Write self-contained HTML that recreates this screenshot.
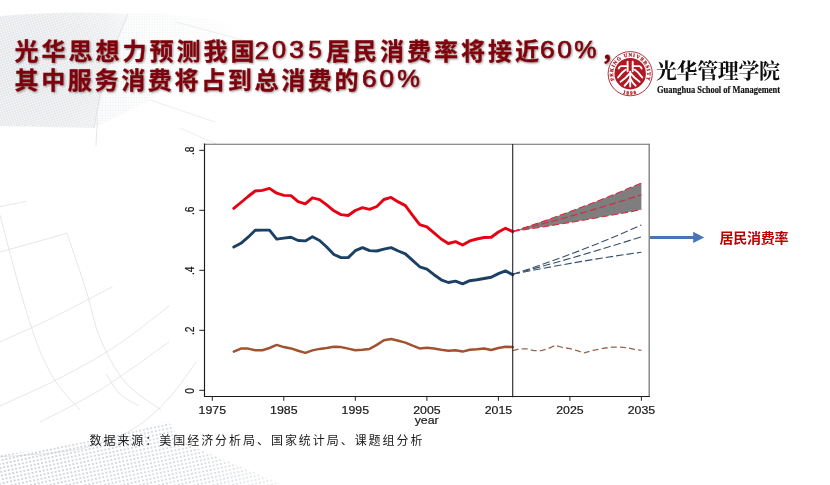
<!DOCTYPE html>
<html lang="zh"><head><meta charset="utf-8"><title>光华思想力预测我国2035居民消费率</title>
<style>html,body{margin:0;padding:0;background:#fff;}body{width:830px;height:485px;overflow:hidden;position:relative;font-family:"Liberation Sans",sans-serif;}svg{position:absolute;left:0;top:0;display:block}.sr{position:absolute;color:transparent;white-space:nowrap;overflow:hidden;margin:0;font-family:"Liberation Sans",sans-serif;}</style>
</head><body>
<svg width="830" height="485" viewBox="0 0 830 485">
<defs>
<filter id="sh" x="-5%" y="-20%" width="110%" height="150%"><feGaussianBlur in="SourceAlpha" stdDeviation="0.9"/><feOffset dx="1.2" dy="1.2"/><feComponentTransfer><feFuncA type="linear" slope="0.45"/></feComponentTransfer><feMerge><feMergeNode/><feMergeNode in="SourceGraphic"/></feMerge></filter>
<pattern id="dots2" width="2.6" height="2.6" patternUnits="userSpaceOnUse"><circle cx="1.3" cy="1.3" r="0.85" fill="#bfc5cc"/></pattern>
<pattern id="dotsW" width="2.5" height="2.5" patternUnits="userSpaceOnUse" patternTransform="rotate(-18)"><rect width="2.5" height="2.5" fill="#d3d7dc"/><circle cx="1.25" cy="1.25" r="0.8" fill="#fff"/></pattern>
<pattern id="dots3" width="3.8" height="3.8" patternUnits="userSpaceOnUse" patternTransform="rotate(-12)"><circle cx="1.9" cy="1.9" r="1.05" fill="#b4bbc3"/></pattern>
<radialGradient id="fadeTL" cx="0.15" cy="0.5" r="0.9"><stop offset="0" stop-color="#fff" stop-opacity="0.75"/><stop offset="0.7" stop-color="#fff" stop-opacity="0.55"/><stop offset="1" stop-color="#fff" stop-opacity="0.25"/></radialGradient>
<mask id="mTL"><rect x="0" y="0" width="140" height="140" fill="url(#fadeTL)"/></mask>
<linearGradient id="fadeTL2" x1="0" y1="0" x2="1" y2="0"><stop offset="0" stop-color="#fff" stop-opacity="0.35"/><stop offset="1" stop-color="#fff" stop-opacity="0.05"/></linearGradient>
<mask id="mTL2"><rect x="90" y="0" width="150" height="140" fill="url(#fadeTL2)"/></mask>
<linearGradient id="fadeBL" x1="0" y1="0" x2="1" y2="0"><stop offset="0" stop-color="#fff" stop-opacity="0.8"/><stop offset="0.6" stop-color="#fff" stop-opacity="0.6"/><stop offset="1" stop-color="#fff" stop-opacity="0"/></linearGradient>
<mask id="mBL"><rect x="0" y="400" width="345" height="90" fill="url(#fadeBL)"/></mask>
</defs>
<rect width="830" height="485" fill="#ffffff"/>
<g opacity="0.995">
<g id="bg">
<g mask="url(#mTL)"><path d="M0,16 Q70,10 128,14 Q106,70 94,128 L0,126 Z" fill="url(#dotsW)"/></g>
<g mask="url(#mTL2)"><path d="M128,14 Q190,12 236,26 Q200,60 150,100 L94,128 Q106,70 128,14 Z" fill="url(#dots2)"/></g>
<g fill="none" stroke="#dcdfe3" stroke-width="0.8">
<path d="M0.0,206.6C4.3,205.7 21.7,202.3 26.0,201.4"/>
<path d="M0.0,252.0C11.2,248.9 55.8,236.5 67.0,233.4"/>
<path d="M67.0,233.4C70.2,242.8 80.5,272.6 86.0,290.0C91.5,307.4 93.5,322.7 100.0,338.0C106.5,353.3 114.8,370.0 125.0,382.0C135.2,394.0 155.0,405.3 161.0,410.0"/>
<path d="M0.0,342.0C8.7,338.0 33.2,327.2 52.0,318.0C70.8,308.8 102.4,291.9 112.5,286.7"/>
<path d="M0.0,215.0C3.3,227.5 13.7,268.2 20.0,290.0C26.3,311.8 32.0,330.7 38.0,346.0C44.0,361.3 49.0,371.3 56.0,382.0C63.0,392.7 76.0,405.3 80.0,410.0"/>
<path d="M0.0,406.0C10.0,401.3 40.7,388.0 60.0,378.0C79.3,368.0 97.8,358.0 116.0,346.0C134.2,334.0 160.2,312.7 169.0,306.0"/>
<path d="M40.0,422.0C50.0,416.7 78.5,403.3 100.0,390.0C121.5,376.7 157.5,350.0 169.0,342.0"/>
<path d="M106.0,374.0C108.3,377.3 114.5,388.7 120.0,394.0C125.5,399.3 135.8,404.0 139.0,406.0"/>
<path d="M0.0,457.0C13.3,455.7 57.8,453.7 80.0,449.0C102.2,444.3 118.2,437.5 133.0,429.0C147.8,420.5 158.5,409.2 169.0,398.0C179.5,386.8 191.5,368.0 196.0,362.0"/>
<path d="M97.4,118.0C97.2,122.7 96.2,141.3 96.0,146.0"/>
<path d="M128.0,14.0C124.3,23.3 111.7,51.0 106.0,70.0C100.3,89.0 96.0,118.3 94.0,128.0"/>
</g>
<g fill="none" stroke="#e6e8ea" stroke-width="0.8"><path d="M176,22 L250,42 M180,128 L230,150 M150,100 L215,122"/></g>
<g mask="url(#mBL)"><path d="M0,455 C40,450 110,440 168,421 L182,442 C215,456 250,470 284,485 L0,485 Z" fill="url(#dots3)"/></g>
</g>
<g id="title" fill="#7c060a" filter="url(#sh)">
<g font-family="'Liberation Sans','Noto Sans CJK SC',sans-serif" font-weight="bold" font-size="24" stroke="#7c060a" stroke-width="0.3" stroke-linejoin="round">
<text x="14.5" y="59.5" textLength="240" lengthAdjust="spacing">光华思想力预测我国</text>
<text x="326" y="59.5" textLength="213" lengthAdjust="spacing">居民消费率将接近</text>
<text x="600.5" y="59.5">，</text>
<text x="14.5" y="89" textLength="344" lengthAdjust="spacing">其中服务消费将占到总消费的</text>
</g>
<g stroke="#7c060a" stroke-width="2.8">
<text transform="matrix(0.2551 0 0 0.2380 254.76 58.56)" font-family="Liberation Sans" font-weight="normal" font-size="100">2</text>
<text transform="matrix(0.2535 0 0 0.2347 271.95 58.33)" font-family="Liberation Sans" font-weight="normal" font-size="100">0</text>
<text transform="matrix(0.2662 0 0 0.2347 289.33 58.33)" font-family="Liberation Sans" font-weight="normal" font-size="100">3</text>
<text transform="matrix(0.2451 0 0 0.2382 308.16 58.33)" font-family="Liberation Sans" font-weight="normal" font-size="100">5</text>
<text transform="matrix(0.2648 0 0 0.2347 540.00 58.33)" font-family="Liberation Sans" font-weight="normal" font-size="100">6</text>
<text transform="matrix(0.2640 0 0 0.2347 557.31 58.33)" font-family="Liberation Sans" font-weight="normal" font-size="100">0</text>
<text transform="matrix(0.2497 0 0 0.2375 574.35 58.42)" font-family="Liberation Sans" font-weight="normal" font-size="100">%</text>
<text transform="matrix(0.2627 0 0 0.2347 361.91 87.23)" font-family="Liberation Sans" font-weight="normal" font-size="100">6</text>
<text transform="matrix(0.2619 0 0 0.2347 379.62 87.23)" font-family="Liberation Sans" font-weight="normal" font-size="100">0</text>
<text transform="matrix(0.2546 0 0 0.2375 397.13 87.32)" font-family="Liberation Sans" font-weight="normal" font-size="100">%</text>
</g>
</g>
<g id="logo">
<circle cx="630.2" cy="73.7" r="22.1" fill="#fff" stroke="#b01722" stroke-width="0.9"/>
<circle cx="630.2" cy="73.7" r="15.7" fill="#b01722"/>
<path id="ringT" d="M614.35,80.11 A17.1,17.1 0 1 1 646.05,80.11" fill="none"/>
<path id="ringB" d="M618.15,90.90 A21.0,21.0 0 0 0 642.25,90.90" fill="none"/>
<text font-family="Liberation Serif" font-weight="bold" font-size="4.9" fill="#b01722" stroke="#b01722" stroke-width="0.25"><textPath href="#ringT" textLength="66" lengthAdjust="spacing">PEKING UNIVERSITY</textPath></text>
<text font-family="Liberation Serif" font-weight="bold" font-size="5" fill="#b01722" stroke="#b01722" stroke-width="0.25" letter-spacing="1.3"><textPath href="#ringB" startOffset="50%" text-anchor="middle">1898</textPath></text>
<g transform="translate(630.2,73.7)" fill="none" stroke="#fff" stroke-width="1.9" stroke-linecap="round" stroke-linejoin="round">
<path d="M-2.6,-12 V-2.4 M2.5,-12 V-2.4"/>
<path d="M-2.6,-7.6 H-9 Q-11,-7.4 -11.5,-5.2 M2.5,-7.6 H8.9 Q10.9,-7.4 11.4,-5.2"/>
<path d="M-4.6,-3.9 Q-8.4,-1.6 -12.2,3.8 M4.5,-3.9 Q8.3,-1.6 12.1,3.8"/>
<path d="M0,-2 V12.8"/>
<path d="M0,-0.8 Q-4,4.4 -9.6,8 M0,-0.8 Q4,4.4 9.4,8"/>
<path d="M0,4.8 Q-2.4,9 -5.6,12 M0,4.8 Q2.4,9 5.4,12"/>
</g>
<text x="656" y="78" font-family="'Liberation Serif','Noto Serif CJK SC',serif" font-weight="bold" font-size="21" fill="#0d0d0d" textLength="124" lengthAdjust="spacing">光华管理学院</text>
<text x="657" y="93" font-family="Liberation Serif" font-weight="bold" font-size="10.2" fill="#111" stroke="#111" stroke-width="0.2" textLength="123" lengthAdjust="spacingAndGlyphs">Guanghua School of Management</text>
</g>
<g id="chart">
<rect x="204.5" y="144" width="444.8" height="252.5" fill="#fff"/>
<path d="M204.5,144.2 H649.3" fill="none" stroke="#6a6a6a" stroke-width="1.1"/>
<path d="M649.2,143.7 V396.5" fill="none" stroke="#787878" stroke-width="1.3"/>
<path d="M204.5,143.6 V396.5 H649.8" fill="none" stroke="#1a1a1a" stroke-width="1.15"/>
<path d="M199.3,390.3 H204.5M199.3,330.3 H204.5M199.3,270.3 H204.5M199.3,210.3 H204.5M199.3,150.3 H204.5M212.3,396.5 V400.8M283.8,396.5 V400.8M355.3,396.5 V400.8M426.9,396.5 V400.8M498.4,396.5 V400.8M569.9,396.5 V400.8M641.4,396.5 V400.8" fill="none" stroke="#222" stroke-width="1"/>
<g font-family="Liberation Sans" font-size="10.3" fill="#161616" stroke="#161616" stroke-width="0.18">
<text transform="translate(212.3 413.6) scale(1.2 1)" text-anchor="middle">1975</text>
<text transform="translate(283.8 413.6) scale(1.2 1)" text-anchor="middle">1985</text>
<text transform="translate(355.3 413.6) scale(1.2 1)" text-anchor="middle">1995</text>
<text transform="translate(426.9 413.6) scale(1.2 1)" text-anchor="middle">2005</text>
<text transform="translate(498.4 413.6) scale(1.2 1)" text-anchor="middle">2015</text>
<text transform="translate(569.9 413.6) scale(1.2 1)" text-anchor="middle">2025</text>
<text transform="translate(641.4 413.6) scale(1.2 1)" text-anchor="middle">2035</text>
<text transform="translate(426.7 424) scale(1.2 1)" text-anchor="middle">year</text>
<text transform="translate(194.2 390.8) scale(1.2 1) rotate(-90)" text-anchor="middle">0</text>
<text transform="translate(194.2 330.8) scale(1.2 1) rotate(-90)" text-anchor="middle">.2</text>
<text transform="translate(194.2 270.8) scale(1.2 1) rotate(-90)" text-anchor="middle">.4</text>
<text transform="translate(194.2 210.8) scale(1.2 1) rotate(-90)" text-anchor="middle">.6</text>
<text transform="translate(194.2 150.8) scale(1.2 1) rotate(-90)" text-anchor="middle">.8</text>
</g>
<path d="M512.7,231.4 Q577.1,210.8 641.4,182.9 L641.4,209.6 Q577.1,222.1 512.7,231.4 Z" fill="#7d7d7d"/>
<g fill="none" stroke="#d8283a" stroke-width="1.1" stroke-dasharray="7 3">
<path d="M512.7,231.4 Q577.1,210.8 641.4,182.9"/>
<path d="M512.7,231.4 Q577.1,215.5 641.4,194.8"/>
<path d="M512.7,231.4 Q577.1,222.1 641.4,209.6"/>
</g>
<g fill="none" stroke="#37506a" stroke-width="1.1" stroke-dasharray="7.5 3">
<path d="M512.7,274.3 Q577.1,253.7 641.4,225"/>
<path d="M512.7,274.3 Q577.1,257.2 641.4,236.8"/>
<path d="M512.7,274.3 Q577.1,261.2 641.4,252.2"/>
</g>
<polyline points="512.7,350.7 519.8,348.9 527.0,348.9 534.1,350.7 541.3,350.7 548.4,348.4 555.6,345.3 562.7,347.5 569.9,348.6 577.1,350.7 584.2,352.9 591.4,350.7 598.5,349.3 605.7,348.0 612.8,347.1 620.0,347.1 627.1,347.7 634.3,349.3 641.4,350.4" fill="none" stroke="#99644e" stroke-width="1.3" stroke-dasharray="6 3.2" stroke-linejoin="round"/>
<polyline points="233.8,351.6 240.9,348.6 248.1,348.6 255.2,350.2 262.4,350.2 269.5,348.0 276.7,344.9 283.8,347.1 291.0,348.4 298.1,350.7 305.3,352.9 312.4,350.4 319.6,348.9 326.7,348.0 333.9,346.7 341.0,347.1 348.2,348.6 355.3,350.2 362.5,349.8 369.6,348.9 376.8,344.9 383.9,340.2 391.1,339.0 398.3,340.8 405.4,342.6 412.6,345.7 419.7,348.4 426.9,347.7 434.0,348.4 441.2,349.8 448.3,350.7 455.5,350.2 462.6,351.6 469.8,349.8 476.9,349.3 484.1,348.6 491.2,350.0 498.4,348.0 505.5,346.7 512.7,347.1" fill="none" stroke="#a0522d" stroke-width="2.5" stroke-linejoin="round" stroke-linecap="round"/>
<polyline points="233.8,247.0 240.9,243.3 248.1,237.2 255.2,230.3 262.4,230.1 269.5,230.1 276.7,239.1 283.8,238.1 291.0,237.2 298.1,240.5 305.3,240.9 312.4,236.8 319.6,240.5 326.7,247.0 333.9,254.5 341.0,257.6 348.2,257.6 355.3,250.7 362.5,247.6 369.6,250.6 376.8,251.0 383.9,249.1 391.1,247.6 398.3,251.0 405.4,253.8 412.6,260.3 419.7,266.8 426.9,269.2 434.0,274.7 441.2,279.8 448.3,282.5 455.5,281.1 462.6,283.8 469.8,280.7 476.9,279.8 484.1,278.5 491.2,277.3 498.4,273.6 505.5,270.9 512.7,274.7" fill="none" stroke="#1a3f63" stroke-width="2.9" stroke-linejoin="round" stroke-linecap="round"/>
<polyline points="233.8,208.4 240.9,202.5 248.1,196.5 255.2,191.0 262.4,190.4 269.5,188.4 276.7,193.2 283.8,195.4 291.0,195.6 298.1,201.6 305.3,203.8 312.4,197.8 319.6,199.7 326.7,204.9 333.9,210.8 341.0,214.6 348.2,215.5 355.3,210.5 362.5,207.7 369.6,209.3 376.8,206.5 383.9,199.5 391.1,197.4 398.3,201.9 405.4,205.6 412.6,215.3 419.7,224.6 426.9,226.8 434.0,232.9 441.2,239.0 448.3,243.5 455.5,241.6 462.6,245.0 469.8,240.9 476.9,239.0 484.1,237.5 491.2,237.2 498.4,232.0 505.5,228.3 512.7,231.6" fill="none" stroke="#e60012" stroke-width="2.9" stroke-linejoin="round" stroke-linecap="round"/>
<path d="M512.7,144 V397.2" fill="none" stroke="#222" stroke-width="1.1"/>
</g>
<g id="arrow"><path d="M650,237.4 H694.5" stroke="#4674b8" stroke-width="3" fill="none"/><path d="M693.2,231.8 L704.2,237.4 L693.2,243 Z" fill="#4674b8"/></g>
<text id="lab" x="719.5" y="242.6" font-family="'Liberation Sans','Noto Sans CJK SC',sans-serif" font-weight="bold" font-size="14" fill="#bb0000" textLength="69" lengthAdjust="spacing">居民消费率</text>
<text id="src" x="89.5" y="444.5" font-family="'Liberation Sans','Noto Sans CJK SC',sans-serif" font-size="12" fill="#1a1a1a" textLength="333" lengthAdjust="spacing">数据来源：美国经济分析局、国家统计局、课题组分析</text>
</g>
</svg>
<h1 class="sr" style="left:15px;top:36px;width:600px;height:58px;font-size:22px;line-height:28px;white-space:normal">光华思想力预测我国2035居民消费率将接近60%，<br>其中服务消费将占到总消费的60%</h1>
<div class="sr" style="left:656px;top:55px;width:126px;height:28px;font-size:20px;line-height:28px">光华管理学院</div>
<div class="sr" style="left:719px;top:230px;width:72px;height:16px;font-size:13px;line-height:16px">居民消费率</div>
<p class="sr" style="left:88px;top:431px;width:340px;height:17px;font-size:14px;line-height:17px">数据来源：美国经济分析局、国家统计局、课题组分析</p>
</body></html>
